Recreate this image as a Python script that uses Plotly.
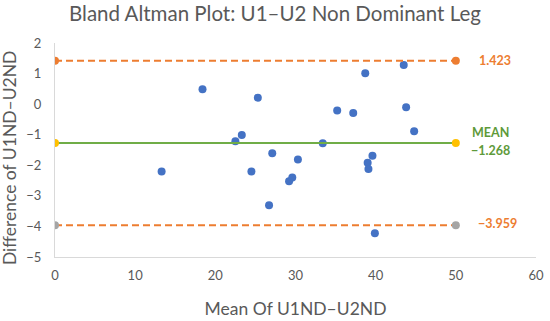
import plotly.graph_objects as go

# Data
mean_vals = [13.3, 18.4, 22.5, 23.3, 24.5, 25.3, 26.7, 27.1, 29.2, 29.6, 30.3,
             33.4, 35.2, 37.2, 38.7, 39.0, 39.1, 39.6, 39.9, 43.5, 43.8, 44.8]
diff_vals = [-2.20, 0.49, -1.21, -1.01, -2.20, 0.21, -3.31, -1.61, -2.52, -2.40, -1.81,
             -1.28, -0.21, -0.29, 1.01, -1.92, -2.12, -1.69, -4.22, 1.28, -0.10, -0.89]

line_x = [0, 50]
upper_loa = 1.423
mean_diff = -1.268
lower_loa = -3.959

x_ticks = [0, 10, 20, 30, 40, 50, 60]
y_ticks = [2, 1, 0, -1, -2, -3, -4, -5]

FONT = "Lato"
GREY = "#595959"
BLUE = "#4472C4"
ORANGE = "#ED7D31"
GREEN = "#70AD47"
DKGREEN = "#5E9A3A"
YELLOW = "#FFC000"
LGREY = "#A5A5A5"

fig = go.Figure()

fig.add_trace(go.Scatter(
    x=mean_vals, y=diff_vals, mode="markers",
    marker=dict(color=BLUE, size=8, line=dict(width=0)),
    showlegend=False, hoverinfo="x+y"))

fig.add_trace(go.Scatter(
    x=line_x, y=[upper_loa, upper_loa], mode="lines+markers",
    line=dict(color=ORANGE, width=2, dash="7px,4px"),
    marker=dict(color=ORANGE, size=8), showlegend=False))

fig.add_trace(go.Scatter(
    x=line_x, y=[lower_loa, lower_loa], mode="lines+markers",
    line=dict(color=ORANGE, width=2, dash="7px,4px"),
    marker=dict(color=LGREY, size=8), showlegend=False))

fig.add_trace(go.Scatter(
    x=line_x, y=[mean_diff, mean_diff], mode="lines+markers",
    line=dict(color=GREEN, width=2),
    marker=dict(color=YELLOW, size=8), showlegend=False))

ann_font = dict(family=FONT, size=12.5)
fig.add_annotation(x=52.6, y=upper_loa, xref="x", yref="y", xanchor="left",
                   text="<b>%.3f</b>" % upper_loa, showarrow=False,
                   font=dict(ann_font, color=ORANGE))
fig.add_annotation(x=52.5, y=lower_loa, xref="x", yref="y", xanchor="left",
                   yshift=2,
                   text="<b>\u2212%.3f</b>" % abs(lower_loa), showarrow=False,
                   font=dict(ann_font, color=ORANGE))
fig.add_annotation(x=51.75, y=mean_diff, xref="x", yref="y", xanchor="left",
                   yshift=10.5, text="<b>MEAN</b>", showarrow=False,
                   font=dict(ann_font, color=DKGREEN))
fig.add_annotation(x=51.6, y=mean_diff, xref="x", yref="y", xanchor="left",
                   yshift=-7.5, text="<b>\u2212%.3f</b>" % abs(mean_diff), showarrow=False,
                   font=dict(ann_font, color=DKGREEN))

# y-axis title as rotated annotation (paper coords)
fig.add_annotation(x=-0.0956, y=0.4626, xref="paper", yref="paper",
                   xanchor="center", yanchor="middle", textangle=-90,
                   text="Difference of U1ND\u2013U2ND", showarrow=False,
                   font=dict(family=FONT, size=17.5, color=GREY))

fig.update_layout(
    width=550, height=321,
    margin=dict(l=55, r=14, t=43, b=64, autoexpand=False),
    paper_bgcolor="white", plot_bgcolor="white",
    font=dict(family=FONT, color=GREY, size=13),
    title=dict(text="Bland Altman Plot: U1\u2013U2 Non Dominant Leg",
               x=0.5, xref="container", xanchor="center",
               y=0.956, yanchor="middle", yref="container",
               font=dict(family=FONT, size=20.5, color=GREY)),
    xaxis=dict(range=[0, 60], tickvals=x_ticks, showgrid=False, zeroline=False,
               showline=True, linecolor="#D9D9D9", linewidth=1, ticks="",
               automargin=False, ticklabelstandoff=6,
               tickfont=dict(size=13, color=GREY),
               title=dict(text="Mean Of U1ND\u2013U2ND", standoff=21,
                          font=dict(size=17.5, color=GREY))),
    yaxis=dict(range=[-5, 2], tickvals=y_ticks, showgrid=False, zeroline=False,
               showline=True, linecolor="#D9D9D9", linewidth=1, ticks="",
               automargin=False, ticklabelstandoff=10,
               tickfont=dict(size=13, color=GREY)),
)

fig.write_html("out.html",
               config={"displayModeBar": False},
               post_script="document.body.style.margin='0';document.body.style.padding='0';")
